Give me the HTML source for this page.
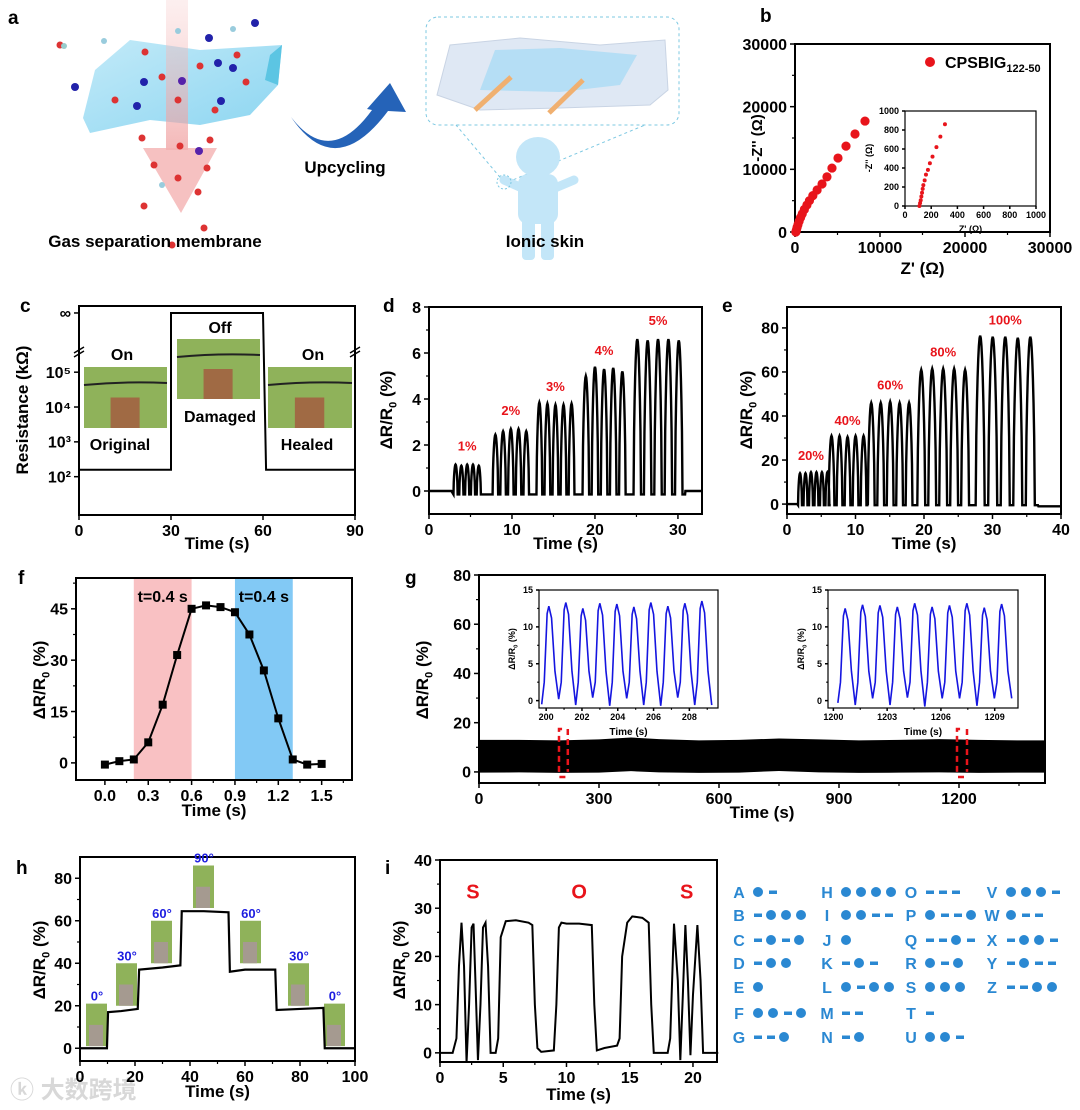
<!DOCTYPE html>
<html><head><meta charset="utf-8"><style>
html,body{margin:0;padding:0;background:#fff;}
svg{display:block;font-family:"Liberation Sans","Noto Sans CJK SC",sans-serif;font-weight:bold;}
</style></head><body>
<svg id="fig" width="1080" height="1110" viewBox="0 0 1080 1110" xmlns="http://www.w3.org/2000/svg">
<defs>
<linearGradient id="memb" x1="0" y1="0" x2="1" y2="1"><stop offset="0" stop-color="#bfe9f8"/><stop offset="1" stop-color="#86d3f0"/></linearGradient>
<linearGradient id="pink" x1="0" y1="0" x2="0" y2="1"><stop offset="0" stop-color="#f6c9c9" stop-opacity="0.3"/><stop offset="1" stop-color="#ef9a9a" stop-opacity="0.7"/></linearGradient>
</defs>
<!-- Panel a illustration -->
<g>
<polygon points="83,118 95,70 130,40 200,50 282,45 278,85 250,115 200,125 150,120 90,133" fill="url(#memb)" opacity="0.95"/>
<polygon points="270,55 282,45 278,85 265,80" fill="#5cc5e3"/>
<rect x="166" y="0" width="22" height="150" fill="url(#pink)"/>
<polygon points="143,148 217,148 181,213" fill="#f4b1b1" opacity="0.8"/>
<g>
<circle cx="60" cy="45" r="3.5" fill="#d33"/><circle cx="64" cy="46" r="3" fill="#9cc"/>
<circle cx="104" cy="41" r="3" fill="#9cd"/><circle cx="233" cy="29" r="3" fill="#9cd"/>
<circle cx="178" cy="31" r="3" fill="#9cd"/><circle cx="209" cy="38" r="4" fill="#22a"/><circle cx="255" cy="23" r="4" fill="#22a"/>
<circle cx="75" cy="87" r="4" fill="#22a"/><circle cx="144" cy="82" r="4" fill="#22a"/><circle cx="218" cy="63" r="4" fill="#22a"/><circle cx="233" cy="68" r="4" fill="#22a"/>
<circle cx="182" cy="81" r="4" fill="#52a"/><circle cx="137" cy="106" r="4" fill="#22a"/><circle cx="221" cy="101" r="4" fill="#22a"/>
<circle cx="145" cy="52" r="3.5" fill="#d33"/><circle cx="162" cy="77" r="3.5" fill="#d33"/><circle cx="200" cy="66" r="3.5" fill="#d33"/>
<circle cx="237" cy="55" r="3.5" fill="#d33"/><circle cx="246" cy="82" r="3.5" fill="#d33"/><circle cx="115" cy="100" r="3.5" fill="#d33"/>
<circle cx="178" cy="100" r="3.5" fill="#d33"/><circle cx="215" cy="110" r="3.5" fill="#d33"/>
<circle cx="142" cy="138" r="3.5" fill="#d33"/><circle cx="210" cy="140" r="3.5" fill="#d33"/><circle cx="180" cy="146" r="3.5" fill="#d33"/>
<circle cx="199" cy="151" r="4" fill="#52a"/><circle cx="154" cy="165" r="3.5" fill="#d33"/><circle cx="207" cy="168" r="3.5" fill="#d33"/>
<circle cx="178" cy="178" r="3.5" fill="#d33"/><circle cx="162" cy="185" r="3" fill="#9cd"/><circle cx="198" cy="192" r="3.5" fill="#d33"/>
<circle cx="144" cy="206" r="3.5" fill="#d33"/><circle cx="204" cy="228" r="3.5" fill="#d33"/><circle cx="172" cy="245" r="3.5" fill="#d33"/>
</g>
<path d="M291,117 Q330,168 372,110 L367,109 L390,83 L406,112 L388,111 Q335,182 291,117 Z" fill="#2563b8"/>
<text x="345" y="173" font-size="17" text-anchor="middle">Upcycling</text>
<text x="155" y="247" font-size="17" text-anchor="middle">Gas separation membrane</text>
<rect x="426" y="17" width="253" height="108" rx="12" fill="none" stroke="#7cc8e2" stroke-dasharray="3,3"/>
<polygon points="437,95 450,45 520,38 600,45 665,40 668,90 650,105 560,108 480,110" fill="#dfe8f4" stroke="#c9d4e4"/>
<polygon points="480,90 495,50 560,48 637,55 620,85 560,92" fill="#aedcf4" opacity="0.85"/>
<line x1="475" y1="110" x2="511" y2="77" stroke="#f0b070" stroke-width="5"/>
<line x1="549" y1="113" x2="583" y2="80" stroke="#f0b070" stroke-width="5"/>
<line x1="504" y1="182" x2="456" y2="125" stroke="#7cc8e2" stroke-dasharray="3,3"/>
<line x1="508" y1="182" x2="645" y2="125" stroke="#7cc8e2" stroke-dasharray="3,3"/>
<g fill="#c3e6f8">
<ellipse cx="538" cy="157" rx="22" ry="20"/>
<rect x="518" y="174" width="40" height="50" rx="10"/>
<rect x="522" y="215" width="13" height="45" rx="4"/><rect x="541" y="215" width="13" height="45" rx="4"/>
<line x1="522" y1="188" x2="504" y2="180" stroke="#c3e6f8" stroke-width="9" stroke-linecap="round"/>
<line x1="555" y1="188" x2="574" y2="180" stroke="#c3e6f8" stroke-width="9" stroke-linecap="round"/>
</g>
<circle cx="504" cy="182" r="7" fill="none" stroke="#7cc8e2" stroke-dasharray="2,2"/>
<text x="545" y="247" font-size="17" text-anchor="middle">Ionic skin</text>
</g>
<!-- panel letters -->
<g font-size="19">
<text x="8" y="24">a</text>
<text x="760" y="22">b</text>
<text x="20" y="312">c</text>
<text x="383" y="312">d</text>
<text x="722" y="312">e</text>
<text x="18" y="584">f</text>
<text x="405" y="584">g</text>
<text x="16" y="874">h</text>
<text x="385" y="874">i</text>
</g>
<text x="10" y="1098" font-size="24" fill="#d8d8d8">ⓚ 大数跨境</text>
</svg>
<script>
// ---------- data ----------
const bZre=[100,130,180,250,350,480,650,850,1100,1400,1700,2100,2600,3180,3760,4350,5060,6000,7060,8235];
const bZim=[0,150,400,750,1200,1700,2300,2900,3600,4300,5000,5800,6700,7660,8800,10200,11800,13700,15640,17700];
const bInZre=[110,115,120,125,130,135,140,150,160,175,190,210,240,270,305];
const bInZim=[0,30,60,100,140,180,220,270,330,380,450,520,620,730,860];
const cTime=[0,30,30,60,61,90];
const cLevel=[2.2,2.2,6.7,6.7,2.2,2.2];
const cTickLabels=['10²','10³','10⁴','10⁵','∞'];
const dFirstPeak=[3.2,8.0,13.3,18.9,25.1];
const dPeriod=[0.7,0.93,0.97,1.1,1.25];
const dPeaks=[[1.15,1.1,1.15,1.15,1.1],[2.45,2.6,2.7,2.7,2.6],[3.85,3.8,3.75,3.75,3.8],[5.0,5.4,5.3,5.35,5.2],[6.6,6.55,6.6,6.6,6.55]];
const dLabels=['1%','2%','3%','4%','5%'];
const eFirstPeak=[1.9,6.5,12.3,19.6,28.2];
const ePeriod=[0.8,1.17,1.38,1.6,1.83];
const ePeaks=[[14,14,14.5,14.5,14.5,14.5],[31,31,30.5,31,31],[46,46,46.5,46,46],[61,61.5,61.5,61.5,61],[76.5,76,76,75.5,76]];
const eLabels=['20%','40%','60%','80%','100%'];
const fTime=[0,0.1,0.2,0.3,0.4,0.5,0.6,0.7,0.8,0.9,1.0,1.1,1.2,1.3,1.4,1.5];
const fValue=[-0.5,0.5,1,6,17,31.5,45,46,45.5,44,37.5,27,13,1,-0.5,-0.3];
const gEnvTime=[0,100,200,300,380,450,550,650,750,850,950,1050,1150,1250,1350,1415];
const gUpper=[13,13,12.8,13.2,14,13.3,12.8,13,13.6,13.2,12.8,13,13.3,13,12.8,12.8];
const gLower=[-0.3,-0.2,-0.4,-0.3,0.3,-0.2,-0.4,-0.3,0.4,-0.2,-0.4,-0.3,-0.2,-0.4,-0.3,-0.3];
const gInLPeaks=[12.8,13.3,12.5,13.2,13.1,12.7,13.3,12.8,13.2,13.5];
const gInLMins=[-0.5,0.2,-0.6,0.4,-0.7,0.3,-0.6,-0.7,0.4,-0.6,-0.6];
const gInRPeaks=[12.5,13,12.9,12.7,13.2,12.7,12.9,13.2,12.6,13.1];
const gInRMins=[-0.3,-0.6,0.3,-0.6,0.4,-0.8,0.3,0.3,-0.7,0.3,0.3];
const hTime=[0,9.8,10.2,15,21,21.5,30,36.5,37,45,54,54.5,60,71,71.5,80,88.5,89,100];
const hValue=[0,0,17,17.5,18.5,37,38,39,64.5,64.5,64,36,37,37,18,18.5,19,0,0];
const hAngles=['0°','30°','60°','90°','60°','30°','0°'];
const iTime=[0,1.0,1.3,1.5,1.7,1.9,2.1,2.3,2.5,2.65,2.8,3.0,3.2,3.4,3.6,3.8,4.0,4.4,4.6,4.8,5.2,6,7,7.3,7.5,7.7,8,9,9.2,9.4,9.6,10,11,12,12.2,12.4,13,14,14.2,14.4,14.8,15.2,16,16.5,16.7,16.9,18,18.2,18.5,18.8,19.0,19.2,19.4,19.6,19.8,20.0,20.35,20.6,20.8,21,22];
const iValue=[0,0,3,18,27,18,-2,10,26,26.8,15,-1.5,10,26,27,18,0,0,3,24,27.3,27.5,27,26.5,10,1,0.2,0.5,10,26,27,26.8,26.8,26.5,10,0.5,1,1.5,3,20,27,28.3,28,27,10,0,0,3,26.8,15,-1.5,12,26.5,15,-0.5,12,26.5,15,0,0,0];
const morseLetters=['A','B','C','D','E','F','G','H','I','J','K','L','M','N','O','P','Q','R','S','T','U','V','W','X','Y','Z'];
const morseCodes=['.-','-...','-.-.','-..','.','..-.','--.','....','..--','.','-.-','.-..','--','-.','---','.--.','--.-','.-.','...','-','..-','...-','.--','-..-','-.--','--..'];

// ---------- helpers ----------
const NS='http://www.w3.org/2000/svg';
const svg=document.getElementById('fig');
function mk(tag,attrs,parent){const e=document.createElementNS(NS,tag);for(const k in attrs)e.setAttribute(k,attrs[k]);parent.appendChild(e);return e;}
function txt(s,attrs,parent){const e=mk('text',attrs,parent);e.textContent=s;return e;}
function axes(name,o){
  const g=mk('g',{},svg);
  
  
  const [L,T,R,B]=o.box;const fs=o.fs||16;const tl=o.tl||5;
  const sx=v=>L+(v-o.xd[0])/(o.xd[1]-o.xd[0])*(R-L);
  const sy=v=>B-(v-o.yd[0])/(o.yd[1]-o.yd[0])*(B-T);
  const fr=mk('rect',{x:L,y:T,width:R-L,height:B-T,fill:'none',stroke:'#000','stroke-width':o.sw||2},g);
  
  
  if(o.xt){o.xt.forEach((v,i)=>{
    const x=sx(v);
    const t=mk('line',{x1:x,x2:x,y1:B,y2:B+tl,stroke:'#000','stroke-width':1.5},g);
    
    
    const lb=txt(o.xl?o.xl[i]:String(v),{x:x,y:B+tl+fs,'font-size':fs,'text-anchor':'middle'},g);
    
    
    if(!o.noMinor){const st=(o.xt[1]-o.xt[0])/2;const m=v+st;if(m<o.xd[1]){
      const mx=sx(m);const ml=mk('line',{x1:mx,x2:mx,y1:B,y2:B+tl*0.6,stroke:'#000','stroke-width':1.2},g);
      
      }}
  });}
  if(o.yt){o.yt.forEach((v,i)=>{
    const y=sy(v);
    const t=mk('line',{x1:L-tl,x2:L,y1:y,y2:y,stroke:'#000','stroke-width':1.5},g);
    
    
    const lb=txt(o.yl?o.yl[i]:String(v),{x:L-tl-3,y:y+fs*0.36,'font-size':fs,'text-anchor':'end'},g);
    
    
    if(!o.noMinor){const st=(o.yt[1]-o.yt[0])/2;const m=v+st;if(m<o.yd[1]){
      const my=sy(m);const ml=mk('line',{x1:L-tl*0.6,x2:L,y1:my,y2:my,stroke:'#000','stroke-width':1.2},g);
      
      }}
  });}
  if(o.xtitle){const xt=txt(o.xtitle,{x:(L+R)/2,y:o.xty,'font-size':o.tfs||17,'text-anchor':'middle'},g);
    
    }
  return {sx,sy,g};
}
function ytitle(name,x,y,fs,parts){
  const t=mk('text',{x:0,y:0,'font-size':fs,'text-anchor':'middle',transform:`translate(${x},${y}) rotate(-90)`},svg);
  
  
  parts.forEach(p=>{const s=mk('tspan',p.sub?{'font-size':fs*0.65,dy:fs*0.25}:(p.back?{dy:-fs*0.25}:{}),t);s.textContent=p.t;});
  return t;
}
const dRR=(fs)=>[{t:'ΔR/R'},{t:'0',sub:1},{t:' (%)',back:1}];
function path(pts,attrs,name){const d=pts.map((p,i)=>(i?'L':'M')+p[0].toFixed(2)+','+p[1].toFixed(2)).join('');const e=mk('path',Object.assign({d:d,fill:'none'},attrs),svg);
  
  return e;}
function pulses(firstPeaks,periods,peaks,base,frac){
  const out=[];
  firstPeaks.forEach((fp,gi)=>{const p=periods[gi];const st=fp-0.5*frac*p;
    peaks[gi].forEach((a,k)=>{const t0=st+k*p;
      for(let j=0;j<=14;j++){const u=j/14;out.push([t0+u*frac*p,base+(a-base)*Math.pow(Math.sin(Math.PI*u),0.6)]);}
    });
    const last=st+peaks[gi].length*p-(1-frac)*p;out.push([last+0.25*p,base]);
  });
  return out;
}

// ---------- panel b ----------
(function(){
  const a=axes('panel-b',{box:[795,44,1050,232],xd:[0,30000],yd:[0,30000],xt:[0,10000,20000,30000],yt:[0,10000,20000,30000],fs:16,xtitle:"Z' (Ω)",xty:274});
  ytitle('panel-b',762,138,15,[{t:"-Z'' (Ω)"}]);
  bZre.forEach((v,i)=>{const c=mk('circle',{cx:a.sx(v),cy:a.sy(bZim[i]),r:4.6,fill:'#e8141b'},svg);
    
    });
  const lg=mk('circle',{cx:930,cy:62,r:5,fill:'#e8141b'},svg);
  
  
  const lt=txt('',{x:945,y:68,'font-size':16},svg);
  
  
  const t1=mk('tspan',{},lt);t1.textContent='CPSBIG';const t2=mk('tspan',{'font-size':11,dy:4},lt);t2.textContent='122-50';
  const ia=axes('panel-b-inset',{box:[905,111,1036,206],xd:[0,1000],yd:[0,1000],xt:[0,200,400,600,800,1000],yt:[0,200,400,600,800,1000],fs:9,tl:3,sw:1.2,noMinor:true,xtitle:"Z' (Ω)",xty:232,tfs:9});
  ytitle('panel-b-inset',872,158,9,[{t:"-Z'' (Ω)"}]);
  bInZre.forEach((v,i)=>{const c=mk('circle',{cx:ia.sx(v),cy:ia.sy(bInZim[i]),r:2,fill:'#e8141b'},svg);
    
    });
})();

// ---------- panel c ----------
(function(){
  const a=axes('panel-c',{box:[79,306,355,515],xd:[0,90],yd:[0.9,6.9],xt:[0,30,60,90],yt:[2,3,4,5,6.7],yl:cTickLabels,fs:16,xtitle:'Time (s)',xty:549,noMinor:true});
  ytitle('panel-c',28,410,17,[{t:'Resistance (kΩ)'}]);
  const sy=v=>a.sy(v);
  [79,355].forEach(x=>{const b=mk('path',{d:`M${x-5},${353}l10,-6 M${x-5},${357}l10,-6`,stroke:'#000','stroke-width':1.5},svg);
    
    });
  const pts=cTime.map((t,i)=>[a.sx(t),sy(cLevel[i])]);
  path(pts,{stroke:'#000','stroke-width':2},'resistance-trace');
  const photos=[[84,367,83,61,'original-photo'],[177,339,83,60,'damaged-photo'],[268,367,84,61,'healed-photo']];
  photos.forEach(p=>{const r=mk('rect',{x:p[0],y:p[1],width:p[2],height:p[3],fill:'#8fb25a'},svg);
    
    
    const w=mk('path',{d:`M${p[0]},${p[1]+18}q${p[2]/2},-4 ${p[2]},-2`,stroke:'#222','stroke-width':2,fill:'none'},svg);
    
    
    const cl=mk('rect',{x:p[0]+p[2]*0.32,y:p[1]+p[3]*0.5,width:p[2]*0.35,height:p[3]*0.5,fill:'#a06a44'},svg);
    
    });
  [['On',122,360],['On',313,360],['Off',220,333],['Original',120,450],['Damaged',220,422],['Healed',307,450]].forEach(l=>{
    const t=txt(l[0],{x:l[1],y:l[2],'font-size':16,'text-anchor':'middle'},svg);
    
    });
})();

// ---------- panel d ----------
(function(){
  const a=axes('panel-d',{box:[429,307,702,514],xd:[0,32.9],yd:[-1,8],xt:[0,10,20,30],yt:[0,2,4,6,8],fs:16,xtitle:'Time (s)',xty:549});
  ytitle('panel-d',392,410,17,dRR());
  const pts=[[0,0],[2.7,0]].concat(pulses(dFirstPeak,dPeriod,dPeaks,-0.15,0.72)).concat([[30.9,0],[32.9,0]]);
  path(pts.map(p=>[a.sx(p[0]),a.sy(p[1])]),{stroke:'#000','stroke-width':2.4},'strain-response-small');
  dLabels.forEach((l,i)=>{const t=txt(l,{x:a.sx(dFirstPeak[i]+2*dPeriod[i]),y:a.sy(dPeaks[i][2])-14,'font-size':13,fill:'#e8141b','text-anchor':'middle'},svg);
    
    });
})();

// ---------- panel e ----------
(function(){
  const a=axes('panel-e',{box:[787,307,1061,514],xd:[0,40],yd:[-4.5,89.5],xt:[0,10,20,30,40],yt:[0,20,40,60,80],fs:16,xtitle:'Time (s)',xty:549});
  ytitle('panel-e',752,410,17,dRR());
  const pts=[[0,0],[1.5,0]].concat(pulses(eFirstPeak,ePeriod,ePeaks,-0.5,0.72)).concat([[36.7,-1],[40,-1]]);
  path(pts.map(p=>[a.sx(p[0]),a.sy(p[1])]),{stroke:'#000','stroke-width':2.4},'strain-response-large');
  eLabels.forEach((l,i)=>{const t=txt(l,{x:a.sx(eFirstPeak[i]+2*ePeriod[i]),y:a.sy(ePeaks[i][2])-12,'font-size':13,fill:'#e8141b','text-anchor':'middle'},svg);
    
    });
})();

// ---------- panel f ----------
(function(){
  const a=axes('panel-f',{box:[76,578,352,780],xd:[-0.2,1.71],yd:[-5,54],xt:[0,0.3,0.6,0.9,1.2,1.5],xl:['0.0','0.3','0.6','0.9','1.2','1.5'],yt:[0,15,30,45],fs:16,xtitle:'Time (s)',xty:816});
  const r1=mk('rect',{x:a.sx(0.2),y:579,width:a.sx(0.6)-a.sx(0.2),height:200,fill:'#f9c1c3'},svg);
  
  
  const r2=mk('rect',{x:a.sx(0.9),y:579,width:a.sx(1.3)-a.sx(0.9),height:200,fill:'#82c9f5'},svg);
  
  
  svg.appendChild(a.g);
  ytitle('panel-f',45,680,17,dRR());
  path(fTime.map((t,i)=>[a.sx(t),a.sy(fValue[i])]),{stroke:'#000','stroke-width':2},'response-curve');
  fTime.forEach((t,i)=>{const s=mk('rect',{x:a.sx(t)-4,y:a.sy(fValue[i])-4,width:8,height:8,fill:'#000'},svg);
    
    });
  [[0.4,'t=0.4 s'],[1.1,'t=0.4 s']].forEach(l=>{const t=txt(l[1],{x:a.sx(l[0]),y:602,'font-size':16,'text-anchor':'middle'},svg);
    
    });
})();

// ---------- panel g ----------
(function(){
  const a=axes('panel-g',{box:[479,575,1045,783],xd:[0,1415],yd:[-4.5,80],xt:[0,300,600,900,1200],yt:[0,20,40,60,80],fs:16,xtitle:'Time (s)',xty:818});
  ytitle('panel-g',428,680,17,dRR());
  const up=gEnvTime.map((t,i)=>[a.sx(t),a.sy(gUpper[i])]);
  const lo=gEnvTime.map((t,i)=>[a.sx(t),a.sy(gLower[i])]).reverse();
  const band=mk('polygon',{points:up.concat(lo).map(p=>p.join(',')).join(' '),fill:'#000'},svg);
  
  
  [[200,222],[1195,1220]].forEach(r=>{const x0=a.sx(r[0]),x1=a.sx(r[1]);
    const d=mk('path',{d:`M${x0},${a.sy(0)} V${729} H${x0+5} M${x1},${729} V${a.sy(0)} M${(x0+x1)/2-4},777 h8`,stroke:'#e8141b','stroke-width':2.5,fill:'none','stroke-dasharray':'6,4'},svg);
    
    });
  function inset(name,box,xd,xt,start,period,peaks,mins){
    const ia=axes(name,{box:box,xd:xd,yd:[-1,15],xt:xt,yt:[0,5,10,15],fs:9,tl:3,sw:1.2,xtitle:'Time (s)',xty:box[3]+27,tfs:10});
    ytitle(name,box[0]-24,(box[1]+box[3])/2,9,[{t:'ΔR/R'},{t:'0',sub:1},{t:' (%)',back:1}]);
    const pts=[];
    peaks.forEach((pk,k)=>{const t0=start+k*period;const m=mins[k];
      pts.push([t0,m],[t0+0.15*period,2.5],[t0+0.32*period,pk-1],[t0+0.42*period,pk],[t0+0.58*period,pk-1.6],[t0+0.78*period,4]);});
    pts.push([start+peaks.length*period,mins[peaks.length]]);
    path(pts.map(p=>[ia.sx(p[0]),ia.sy(p[1])]),{stroke:'#1515e0','stroke-width':1.6},name+'-trace');
  }
  inset('panel-g-inset-left',[539,590,718,708],[199.6,209.6],[200,202,204,206,208],199.75,0.95,gInLPeaks,gInLMins);
  inset('panel-g-inset-right',[828,590,1018,708],[1199.7,1210.3],[1200,1203,1206,1209],1200.25,0.97,gInRPeaks,gInRMins);
})();

// ---------- panel h ----------
(function(){
  const a=axes('panel-h',{box:[80,857,355,1061],xd:[0,100],yd:[-6,90],xt:[0,20,40,60,80,100],yt:[0,20,40,60,80],fs:16,xtitle:'Time (s)',xty:1097});
  ytitle('panel-h',45,960,17,dRR());
  const photoY=[1,20,40,66,40,20,1];
  const photoX=[86,116,151,193,240,288,324];
  hAngles.forEach((l,i)=>{
    const r=mk('rect',{x:photoX[i],y:a.sy(photoY[i]+20),width:21,height:a.sy(photoY[i])-a.sy(photoY[i]+20),fill:'#8fb25a'},svg);
    
    
    const f=mk('rect',{x:photoX[i]+3,y:a.sy(photoY[i]+10),width:14,height:a.sy(photoY[i])-a.sy(photoY[i]+10),fill:'#a59a90'},svg);
    
    
    const t=txt(l,{x:photoX[i]+11,y:a.sy(photoY[i]+20)-3,'font-size':13,fill:'#1d1de0','text-anchor':'middle'},svg);
    
    });
  path(hTime.map((t,i)=>[a.sx(t),a.sy(hValue[i])]),{stroke:'#000','stroke-width':2.2},'bending-response');
})();

// ---------- panel i ----------
(function(){
  const a=axes('panel-i',{box:[440,860,717,1062],xd:[0,21.9],yd:[-1.9,40],xt:[0,5,10,15,20],yt:[0,10,20,30,40],fs:16,xtitle:'Time (s)',xty:1100});
  ytitle('panel-i',405,960,17,dRR());
  path(iTime.map((t,i)=>[a.sx(t),a.sy(iValue[i])]),{stroke:'#000','stroke-width':2},'morse-response');
  [['S',2.6],['O',11],['S',19.5]].forEach(l=>{const t=txt(l[0],{x:a.sx(l[1]),y:a.sy(32),'font-size':20,fill:'#e8141b','text-anchor':'middle'},svg);
    
    });
})();

// ---------- morse table ----------
(function(){
  const g=mk('g',{fill:'#2a88d2'},svg);
  
  
  const colX=[740,828,912,993];const rowY=[892,915,940,963,987,1013,1037];
  const perCol=[7,7,7,5];
  let idx=0;
  perCol.forEach((n,c)=>{for(let r=0;r<n;r++){
    const L=morseLetters[idx],code=morseCodes[idx];idx++;
    const x=colX[c],y=rowY[r];
    const t=txt(L,{x:x-1,y:y+6,'font-size':16,'text-anchor':'middle'},g);
    
    
    let cx=x+14;
    for(const ch of code){
      if(ch==='.'){const d=mk('circle',{cx:cx+4,cy:y,r:5},g);
        
        cx+=15;}
      else{const d=mk('rect',{x:cx,y:y-1.5,width:8,height:3.5},g);
        
        cx+=13;}
    }
  }});
})();
</script>
</body></html>
